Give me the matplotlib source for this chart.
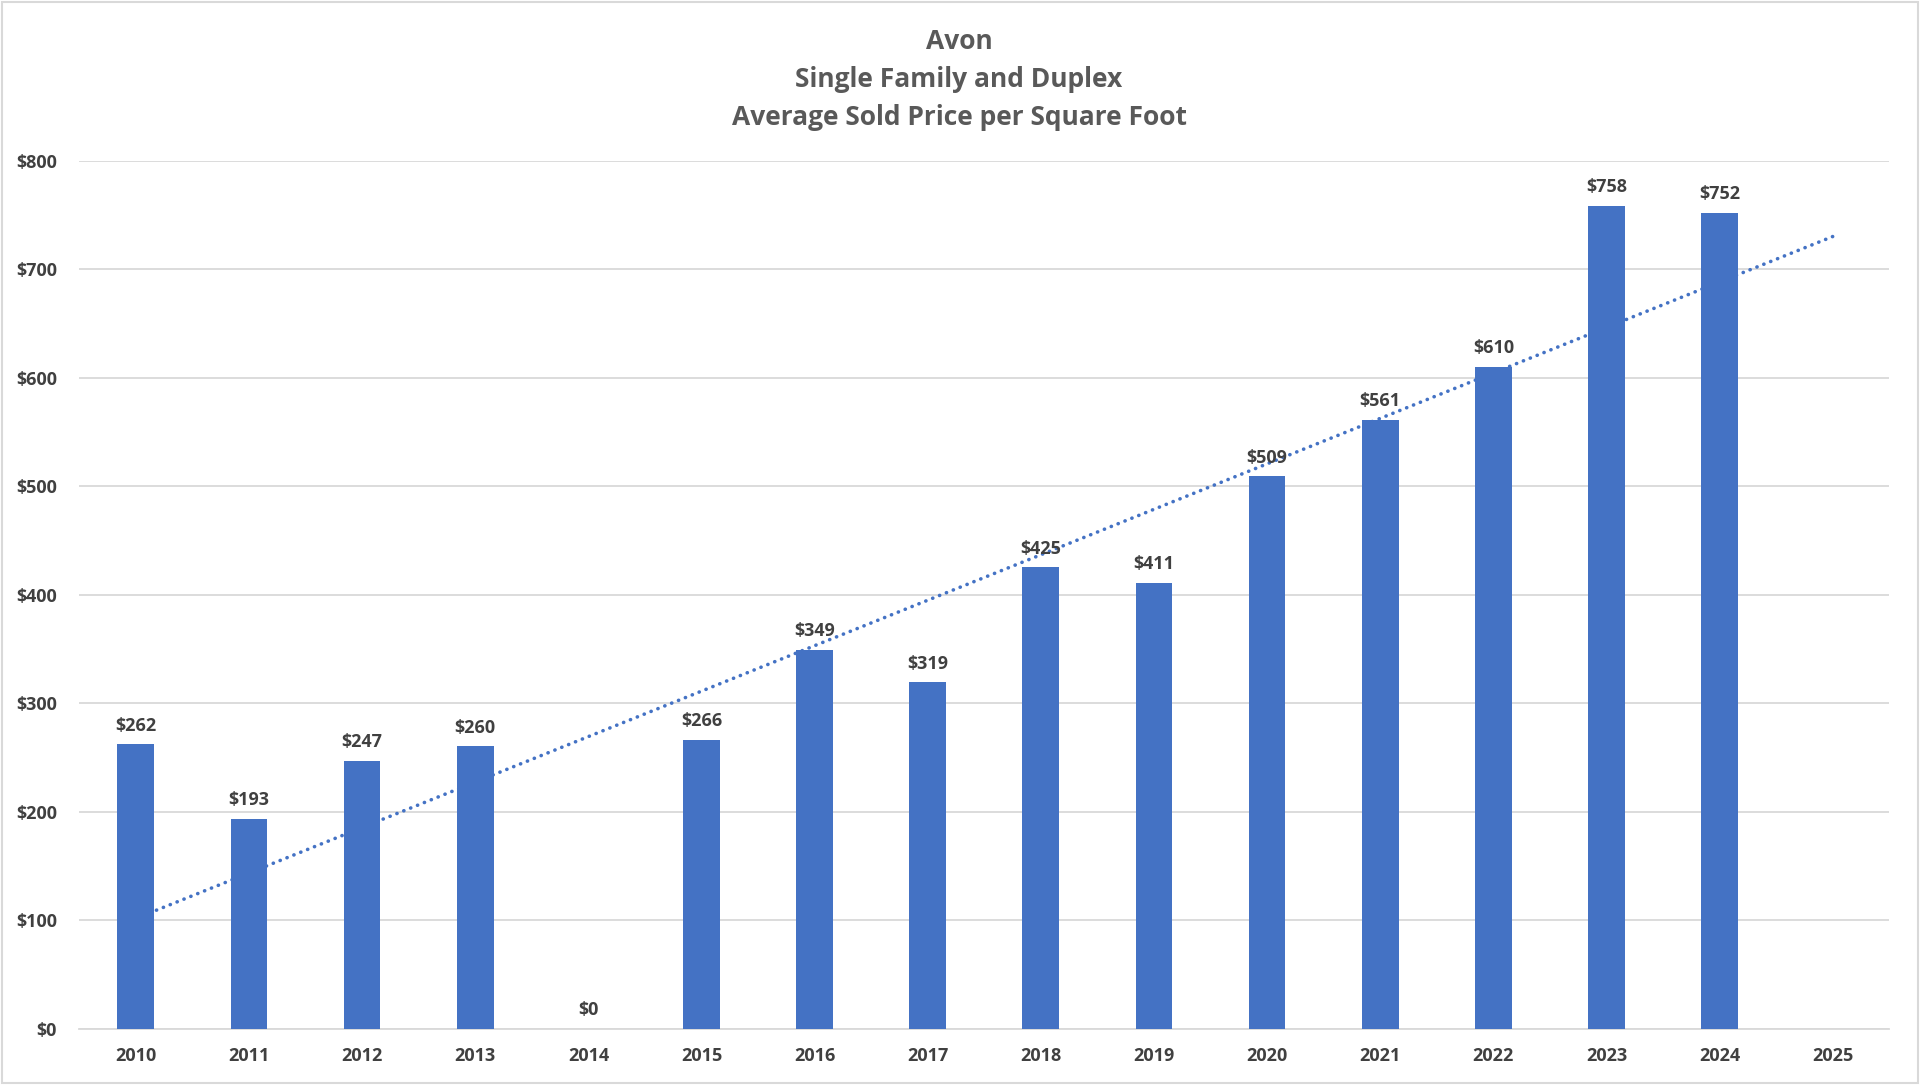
import matplotlib
matplotlib.use("Agg")
import matplotlib.pyplot as plt
import numpy as np

years = ["2010", "2011", "2012", "2013", "2014", "2015", "2016", "2017",
         "2018", "2019", "2020", "2021", "2022", "2023", "2024", "2025"]
values = [262, 193, 247, 260, 0, 266, 349, 319, 425, 411, 509, 561, 610, 758, 752, None]
yticks = [0, 100, 200, 300, 400, 500, 600, 700, 800]
title_lines = ["Avon", "Single Family and Duplex", "Average Sold Price per Square Foot"]

plt.rcParams['font.family'] = ['Open Sans', 'DejaVu Sans']
bar_color = "#4472C4"
text_dark = "#404040"
title_col = "#595959"

fig = plt.figure(figsize=(19.2, 10.85), dpi=100)
fig.patch.set_facecolor("white")
ax = fig.add_axes([0.0413, 0.052, 0.9427, 0.80])

x = np.arange(len(years))
known = [(i, v) for i, v in enumerate(values) if v is not None]
xi = np.array([k[0] for k in known])
yi = np.array([k[1] for k in known], dtype=float)
ax.bar(xi, yi, width=0.325, color=bar_color, zorder=3)

for i, v in known:
    ax.annotate(f"${v:,.0f}", (i, v), xytext=(0, 7), textcoords="offset points",
                ha="center", va="bottom", fontsize=13, fontweight="bold",
                color=text_dark, zorder=5)

# linear trendline (forecast forward one period)
coef = np.polyfit(xi, yi, 1)
tx = np.array([0, len(years) - 1])
ax.plot(tx, np.polyval(coef, tx), linestyle=(0, (0.05, 2.0)), color=bar_color,
        linewidth=2.6, zorder=4, dash_capstyle="round")

ax.set_xlim(-0.5, len(years) - 0.5)
ax.set_ylim(0, 800)
ax.set_yticks(yticks)
ax.set_yticklabels([f"${t}" for t in yticks])
ax.set_xticks(x)
ax.set_xticklabels(years)
ax.grid(axis="y", color="#D9D9D9", linewidth=1.3, zorder=0)
ax.set_axisbelow(True)
for s in ["top", "right", "left"]:
    ax.spines[s].set_visible(False)
ax.spines["bottom"].set_color("#D9D9D9")
ax.spines["bottom"].set_linewidth(1.3)
ax.tick_params(axis="both", length=0, labelsize=13, labelcolor=text_dark)
ax.tick_params(axis="x", pad=13)
ax.tick_params(axis="y", pad=16)
for lab in ax.get_xticklabels() + ax.get_yticklabels():
    lab.set_fontweight("bold")

ys = [0.962, 0.927, 0.892]
for t, yy in zip(title_lines, ys):
    fig.text(0.4995, yy, t, ha="center", va="center", fontsize=19,
             fontweight="bold", color=title_col)

# chart border
fig.add_artist(plt.Rectangle((0.001, 0.002), 0.998, 0.996, transform=fig.transFigure,
                             fill=False, edgecolor="#D9D9D9", linewidth=1.5))

fig.savefig("out.png", dpi=100, facecolor="white")
